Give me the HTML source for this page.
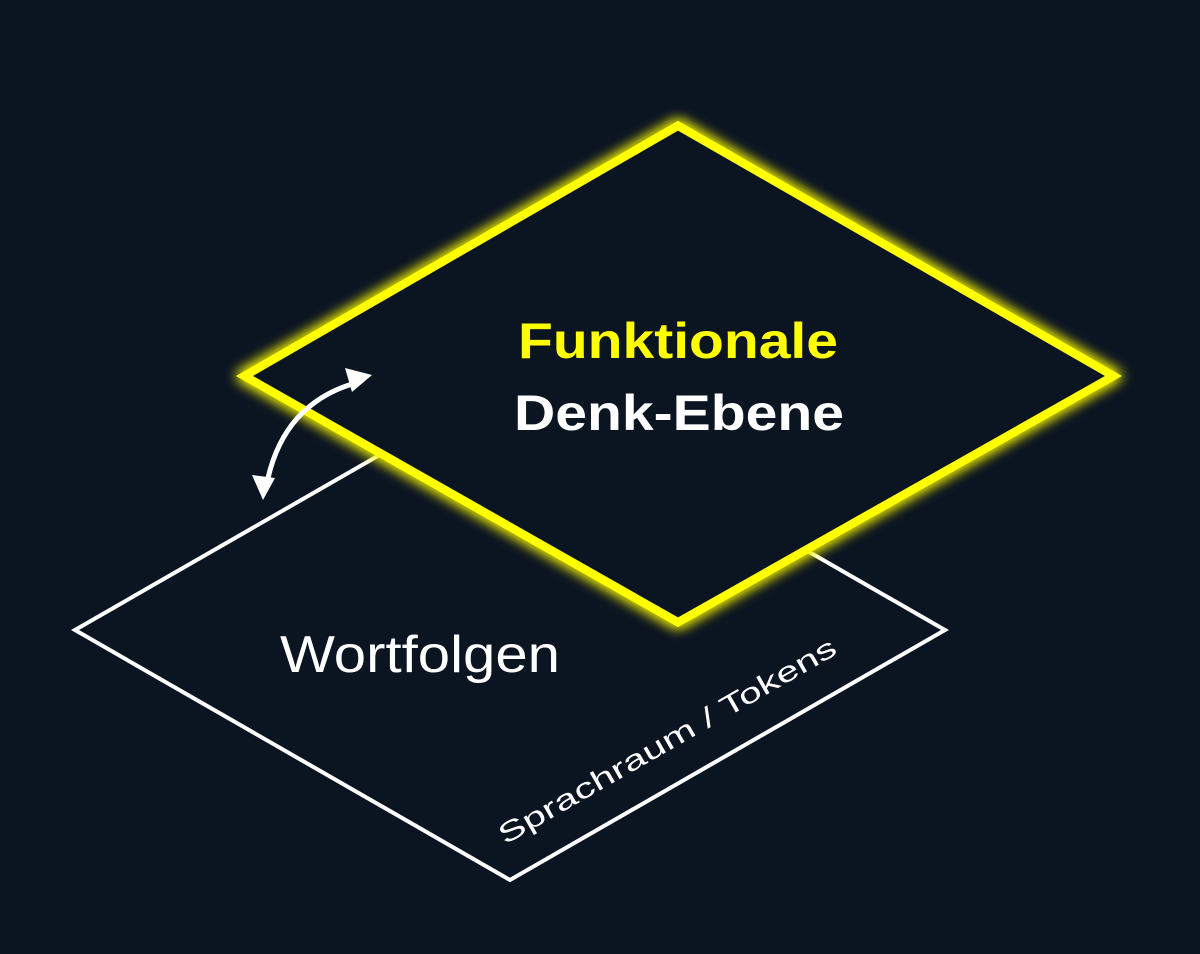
<!DOCTYPE html>
<html><head><meta charset="utf-8"><style>
html,body{margin:0;padding:0;background:#0b1421;}
svg{display:block}
</style></head><body>
<svg width="1200" height="954" viewBox="0 0 1200 954" xmlns="http://www.w3.org/2000/svg">
<defs>
<filter id="glow" x="-20%" y="-20%" width="140%" height="140%">
<feGaussianBlur stdDeviation="7" result="b"/>
<feMerge><feMergeNode in="b"/><feMergeNode in="b"/><feMergeNode in="SourceGraphic"/></feMerge>
</filter>
</defs>
<rect width="1200" height="954" fill="#0b1421"/>
<polygon points="75,630 510,380 945,630 510,880" fill="#0b1421" stroke="#ffffff" stroke-width="4" stroke-linejoin="miter"/>
<text x="280" y="672" font-family="Liberation Sans, sans-serif" font-size="52" fill="#ffffff" textLength="280" lengthAdjust="spacingAndGlyphs">Wortfolgen</text>
<text transform="translate(505,845) rotate(-29.9)" font-family="Liberation Sans, sans-serif" font-size="28" fill="#ffffff" textLength="385" lengthAdjust="spacingAndGlyphs">Sprachraum / Tokens</text>
<polygon points="245,376 678,126 1113,376 678,622" fill="#0b1421" stroke="#ffff00" stroke-width="9" stroke-linejoin="miter" filter="url(#glow)"/>
<polygon points="245,376 678,126 1113,376 678,622" fill="#0b1421" stroke="#ffff00" stroke-width="8" stroke-linejoin="miter"/>
<text x="518" y="358" font-family="Liberation Sans, sans-serif" font-weight="bold" font-size="50" fill="#ffff00" textLength="320" lengthAdjust="spacingAndGlyphs">Funktionale</text>
<text x="514" y="430" font-family="Liberation Sans, sans-serif" font-weight="bold" font-size="50" fill="#ffffff" textLength="330" lengthAdjust="spacingAndGlyphs">Denk-Ebene</text>
<path d="M268,478 Q285,405 352,384" fill="none" stroke="#ffffff" stroke-width="5"/>
<polygon points="372,375 345,368 352,392" fill="#ffffff"/>
<polygon points="263,500 252,475 275,478" fill="#ffffff"/>
</svg>
</body></html>
